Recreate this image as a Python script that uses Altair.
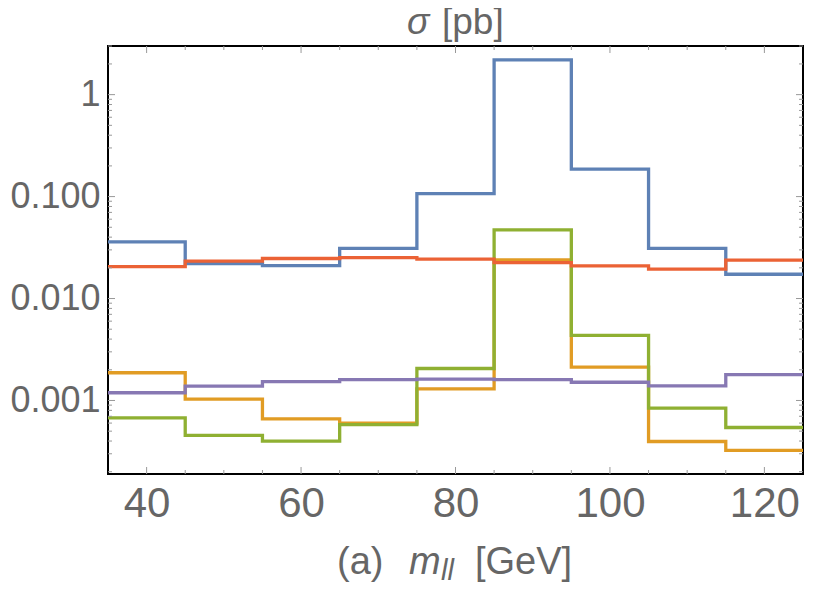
import altair as alt
import pandas as pd

# bin edges (GeV) and per-bin cross sections (pb)
edges = [35, 45, 55, 65, 75, 85, 95, 105, 115, 125]
blue = [0.036, 0.022, 0.021, 0.031, 0.107, 2.19, 0.186, 0.031, 0.0173]
orange = [0.00187, 0.00103, 0.00066, 0.00060, 0.00130, 0.0239, 0.00212, 0.000396, 0.000324]
green = [0.000676, 0.000454, 0.000400, 0.000580, 0.00206, 0.0472, 0.00435, 0.00084, 0.000543]
red = [0.0206, 0.0233, 0.0247, 0.0252, 0.0243, 0.0225, 0.0209, 0.0194, 0.0238]
purple = [0.00119, 0.00138, 0.00153, 0.00160, 0.00162, 0.00160, 0.00151, 0.00139, 0.00179]

series = [
    ("blue", blue, "#5E81B5"),
    ("orange", orange, "#E19C24"),
    ("green", green, "#8FB032"),
    ("red", red, "#EB6235"),
    ("purple", purple, "#8778B3"),
]

x_major = [40, 60, 80, 100, 120]
x_minor = [45, 50, 55, 65, 70, 75, 85, 90, 95, 105, 110, 115]
y_major = [0.001, 0.01, 0.1, 1.0]
y_minor = [k * 10.0 ** e for e in range(-4, 1) for k in range(2, 10) if 1.9e-4 <= k * 10.0 ** e <= 3.0]

W, H = 695, 428
FONT = "Liberation Sans"
GRAY = "#666666"
TICK = "#999999"

xs = alt.Scale(domain=[35, 125], nice=False, zero=False)
ys = alt.Scale(type="log", domain=[1.9e-4, 3.0], nice=False)

xaxis = alt.Axis(values=x_major, ticks=False, domain=False, grid=False, title=None,
                 labelFontSize=42, labelColor=GRAY, labelFont=FONT, labelPadding=9,
                 format="d")
yaxis = alt.Axis(values=y_major, ticks=False, domain=False, grid=False, title=None,
                 labelFontSize=36, labelColor=GRAY, labelFont=FONT, labelPadding=8,
                 labelExpr="datum.value >= 1 ? '1' : format(datum.value, '.3f')")

X = lambda: alt.X("x:Q", scale=xs, axis=xaxis)
Y = lambda: alt.Y("y:Q", scale=ys, axis=yaxis)

layers = []
for name, vals, col in series:
    df = pd.DataFrame({"x": edges, "y": vals + [vals[-1]]})
    layers.append(
        alt.Chart(df).mark_line(interpolate="step-after", color=col, strokeWidth=3.3)
        .encode(x=X(), y=Y())
    )

# inward frame ticks
xmaj = pd.DataFrame({"x": x_major})
xmin = pd.DataFrame({"x": x_minor})
ymaj = pd.DataFrame({"y": y_major})
ymin = pd.DataFrame({"y": y_minor})
for df, L in [(xmaj, 7), (xmin, 4)]:
    layers.append(alt.Chart(df).mark_rule(color=TICK, strokeWidth=1)
                  .encode(x=X(), y=alt.value(H), y2=alt.value(H - L)))
    layers.append(alt.Chart(df).mark_rule(color=TICK, strokeWidth=1)
                  .encode(x=X(), y=alt.value(0), y2=alt.value(L)))
for df, L in [(ymaj, 7), (ymin, 4)]:
    layers.append(alt.Chart(df).mark_rule(color=TICK, strokeWidth=1)
                  .encode(y=Y(), x=alt.value(0), x2=alt.value(L)))
    layers.append(alt.Chart(df).mark_rule(color=TICK, strokeWidth=1)
                  .encode(y=Y(), x=alt.value(W), x2=alt.value(W - L)))

# titles as text pieces
def txt(s, x, y, size=38, style="normal"):
    return alt.Chart(pd.DataFrame({"t": [s]})).mark_text(
        align="left", baseline="alphabetic", font=FONT, fontSize=size,
        fontStyle=style, color=GRAY
    ).encode(text="t:N", x=alt.value(x), y=alt.value(y))

layers += [
    txt("σ", 299, -12, size=37, style="italic"),
    txt("[pb]", 334, -12, size=37),
    txt("(a)", 229, 528),
    txt("m", 301, 528, style="italic"),
    txt("ll", 333, 534, size=29, style="italic"),
    txt("[GeV]", 367, 528),
]

chart = alt.layer(*layers).properties(
    width=W, height=H,
    autosize=alt.AutoSizeParams(type="none"),
    padding={"left": 100, "top": 38, "right": 3, "bottom": 110},
    background="white",
).configure_view(stroke="black", strokeWidth=2)

chart.save("out.html", embed_options={"renderer": "svg", "actions": False})
